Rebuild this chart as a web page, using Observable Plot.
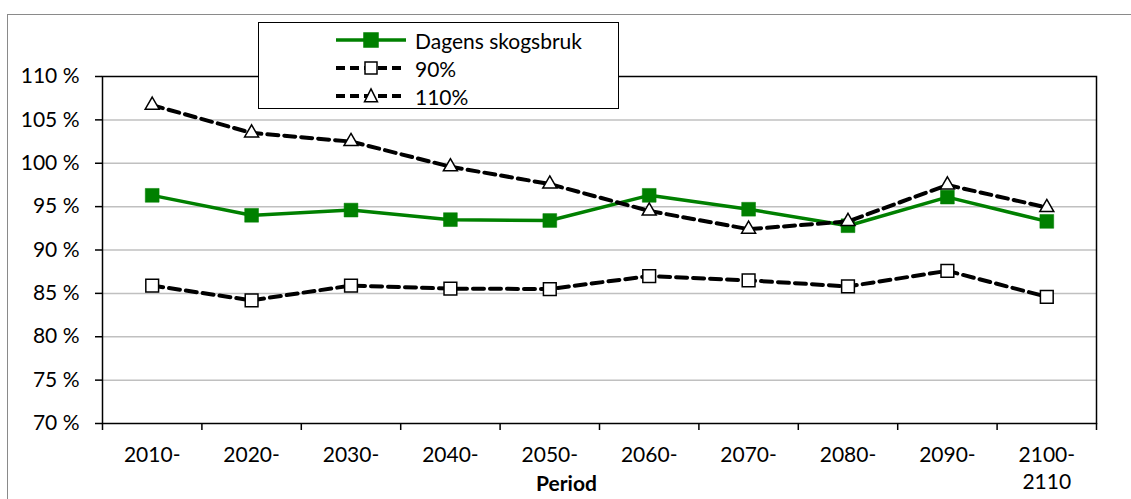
<!DOCTYPE html>
<html>
<head>
<meta charset="utf-8">
<script src="https://cdn.jsdelivr.net/npm/d3@7"></script>
<script src="https://cdn.jsdelivr.net/npm/@observablehq/plot@0.6"></script>
<style>
  html, body { margin: 0; padding: 0; background: #fff; }
  #wrap { position: relative; width: 1131px; height: 499px; overflow: hidden; font-family: Lato, "Open Sans", sans-serif; }
  #outer { position: absolute; left: 7px; top: 14px; width: 1300px; height: 700px; border: 1.5px solid #8a8a8a; box-sizing: border-box; }
  #chart { position: absolute; left: 0; top: 0; }
  #legend { position: absolute; left: 258px; top: 22px; width: 361px; height: 87px; border: 1.3px solid #000; background: #fff; box-sizing: border-box; }
  .row { position: absolute; left: 0; height: 28px; display: flex; align-items: center; font-size: 21px; color: #000; }
  .row svg { margin-left: 76px; margin-right: 8px; }
</style>
</head>
<body>
<div id="wrap">
  <div id="outer"></div>
  <div id="chart"></div>
  <div id="legend"></div>
</div>
<script>
const periods = ["2010-", "2020-", "2030-", "2040-", "2050-", "2060-", "2070-", "2080-", "2090-", "2100-\n2110"];
const dagens = [96.3, 94.0, 94.6, 93.5, 93.4, 96.3, 94.7, 92.8, 96.1, 93.3];
const p90 = [85.9, 84.2, 85.9, 85.55, 85.5, 87.0, 86.5, 85.8, 87.6, 84.6];
const p110 = [106.7, 103.5, 102.5, 99.6, 97.6, 94.5, 92.4, 93.3, 97.5, 94.9];
const yTicks = [70, 75, 80, 85, 90, 95, 100, 105, 110];
const seriesNames = ["Dagens skogsbruk", "90%", "110%"];

const rows = (vals, s) => vals.map((v, i) => ({i, period: periods[i], value: v, series: s}));
const dDagens = rows(dagens, seriesNames[0]);
const d90 = rows(p90, seriesNames[1]);
const d110 = rows(p110, seriesNames[2]);

const green = "#008000";
const dash = "11,6";

const chart = Plot.plot({
  width: 1131,
  height: 499,
  marginLeft: 102,
  marginRight: 35,
  marginTop: 76,
  marginBottom: 76,
  style: {fontFamily: "Lato, 'Open Sans', sans-serif", fontSize: "21px", color: "#000", background: "transparent"},
  x: {type: "linear", domain: [-0.5, periods.length - 0.5]},
  y: {domain: [70, 110]},
  marks: [
    Plot.ruleY(yTicks.filter(t => t > 70 && t < 110), {stroke: "#c0c0c0", strokeWidth: 1.5}),
    Plot.axisY({ticks: yTicks, tickFormat: d => d + " %", tickSize: 7, tickPadding: 16, label: null, strokeWidth: 1.5}),
    Plot.axisX({ticks: d3.range(-0.5, periods.length, 1), tickFormat: () => "", tickSize: 7, label: null, strokeWidth: 1.5}),
    Plot.axisX({ticks: d3.range(0, periods.length), tickFormat: i => periods[i], tickSize: 0, tickPadding: 19, label: null, lineHeight: 1.3}),
    Plot.frame({stroke: "#000", strokeWidth: 1.5}),
    Plot.line(dDagens, {x: "i", y: "value", stroke: green, strokeWidth: 3.5}),
    Plot.dot(dDagens, {x: "i", y: "value", symbol: "square", r: 7.8, fill: green, stroke: green, strokeWidth: 0.5}),
    Plot.line(d90, {x: "i", y: "value", stroke: "#000", strokeWidth: 4, strokeDasharray: dash}),
    Plot.dot(d90, {x: "i", y: "value", symbol: "square", r: 7.2, fill: "#fff", stroke: "#000", strokeWidth: 1.5}),
    Plot.line(d110, {x: "i", y: "value", stroke: "#000", strokeWidth: 4, strokeDasharray: dash}),
    Plot.dot(d110, {x: "i", y: "value", symbol: "triangle", r: 5.2, fill: "#fff", stroke: "#000", strokeWidth: 1.5}),
    Plot.text(["Period"], {frameAnchor: "bottom", dx: -33, dy: 67, fontWeight: "bold", fontSize: 21})
  ]
});
document.getElementById("chart").appendChild(chart);

// legend
const legend = document.getElementById("legend");
const legendSpecs = [
  {name: seriesNames[0], stroke: green, dasharray: null, symbol: "square", fill: green, size: 14},
  {name: seriesNames[1], stroke: "#000", dasharray: "9,5", symbol: "square", fill: "#fff", size: 12},
  {name: seriesNames[2], stroke: "#000", dasharray: "9,5", symbol: "triangle", fill: "#fff", size: 13}
];
const rowTops = [3, 31, 59];
legendSpecs.forEach((s, k) => {
  const row = document.createElement("div");
  row.className = "row";
  row.style.top = rowTops[k] + "px";
  const ns = "http://www.w3.org/2000/svg";
  const svg = document.createElementNS(ns, "svg");
  svg.setAttribute("width", 72);
  svg.setAttribute("height", 20);
  const line = document.createElementNS(ns, "line");
  line.setAttribute("x1", 1); line.setAttribute("x2", 71);
  line.setAttribute("y1", 10); line.setAttribute("y2", 10);
  line.setAttribute("stroke", s.stroke);
  line.setAttribute("stroke-width", s.dasharray ? 4 : 3.5);
  if (s.dasharray) line.setAttribute("stroke-dasharray", s.dasharray);
  svg.appendChild(line);
  let m;
  if (s.symbol === "square") {
    m = document.createElementNS(ns, "rect");
    m.setAttribute("x", 36 - s.size / 2); m.setAttribute("y", 10 - s.size / 2);
    m.setAttribute("width", s.size); m.setAttribute("height", s.size);
  } else {
    m = document.createElementNS(ns, "path");
    m.setAttribute("d", `M36,${10 - s.size * 0.55}L${36 + s.size / 2},${10 + s.size * 0.45}L${36 - s.size / 2},${10 + s.size * 0.45}Z`);
  }
  m.setAttribute("fill", s.fill);
  m.setAttribute("stroke", s.stroke);
  m.setAttribute("stroke-width", 1.5);
  svg.appendChild(m);
  row.appendChild(svg);
  const t = document.createElement("span");
  t.textContent = s.name;
  row.appendChild(t);
  legend.appendChild(row);
});
</script>
</body>
</html>
